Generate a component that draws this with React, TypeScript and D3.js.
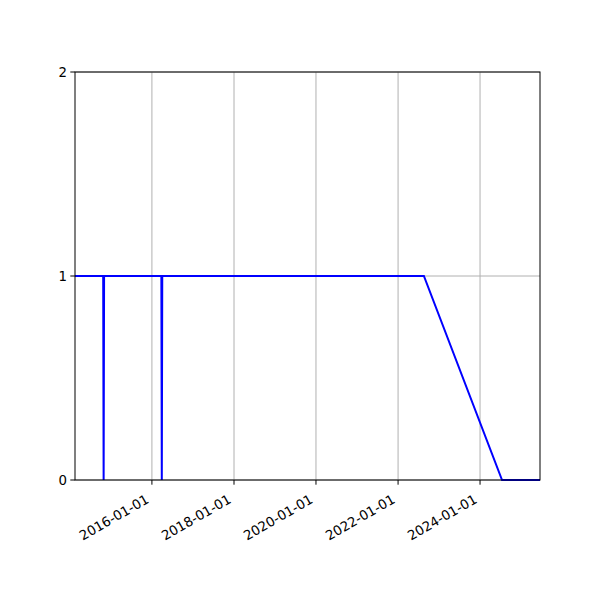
import React from "react";
import * as d3 from "d3";

const dates = [
  "2014-02-15",
  "2014-10-24",
  "2014-10-28",
  "2014-11-01",
  "2016-03-25",
  "2016-03-29",
  "2016-04-02",
  "2022-08-19",
  "2024-07-15",
  "2025-06-18",
];
const values = [1, 1, 0, 1, 1, 0, 1, 1, 0, 0];
const xTickLabels = ["2016-01-01", "2018-01-01", "2020-01-01", "2022-01-01", "2024-01-01"];
const yTicks = [0, 1, 2];

export default function App() {
  const W = 600, H = 600;
  const left = 75, right = 540, top = 72, bottom = 480;
  const parse = d3.utcParse("%Y-%m-%d");
  const pts = dates.map((d, i) => ({ x: parse(d)!, y: values[i] }));
  const x = d3.scaleUtc().domain([pts[0].x, pts[pts.length - 1].x]).range([left, right]);
  const y = d3.scaleLinear().domain([0, 2]).range([bottom, top]);
  const line = d3.line<{ x: Date; y: number }>().x(d => x(d.x)).y(d => y(d.y));
  const font = "DejaVu Sans, sans-serif";
  return (
    <svg width={W} height={H} style={{ position: "absolute", left: 0, top: 0 }} fontFamily={font}>
      <rect width={W} height={H} fill="white" />
      {xTickLabels.map(t => {
        const xv = x(parse(t)!);
        return <line key={"gx" + t} x1={xv} x2={xv} y1={top} y2={bottom} stroke="#b0b0b0" strokeWidth={1} />;
      })}
      {yTicks.map(t => (
        <line key={"gy" + t} x1={left} x2={right} y1={y(t)} y2={y(t)} stroke="#b0b0b0" strokeWidth={1} />
      ))}
      <path d={line(pts) || ""} fill="none" stroke="blue" strokeWidth={2} />
      <rect x={left} y={top} width={right - left} height={bottom - top} fill="none" stroke="black" strokeWidth={1} />
      {xTickLabels.map(t => {
        const xv = x(parse(t)!);
        return (
          <g key={"tx" + t}>
            <line x1={xv} x2={xv} y1={bottom} y2={bottom + 4.7} stroke="black" strokeWidth={1} />
            <text
              transform={`translate(${xv - 2},${bottom + 22}) rotate(-30)`}
              textAnchor="end"
              fontSize={13.33}
            >
              {t}
            </text>
          </g>
        );
      })}
      {yTicks.map(t => (
        <g key={"ty" + t}>
          <line x1={left - 4.7} x2={left} y1={y(t)} y2={y(t)} stroke="black" strokeWidth={1} />
          <text x={left - 8} y={y(t)} dy="0.35em" textAnchor="end" fontSize={13.33}>
            {t}
          </text>
        </g>
      ))}
    </svg>
  );
}
